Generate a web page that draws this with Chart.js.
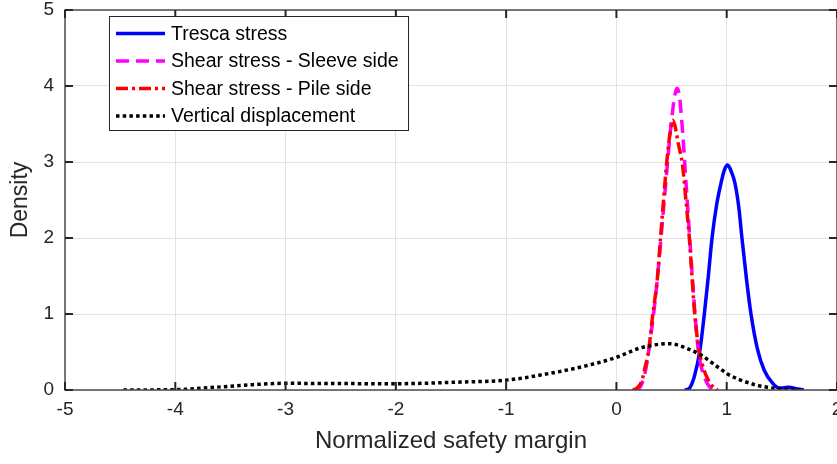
<!DOCTYPE html>
<html lang="en">
  <head>
    <meta charset="UTF-8" />
    <title>Normalized safety margin density</title>
    <script src="https://cdn.jsdelivr.net/npm/chart.js"></script>
    <style>
      body { margin: 0; background: #fff; }
      #wrap { width: 837px; height: 464px; }
    </style>
  </head>

  <body>
    <div id="wrap">
      <canvas id="densityChart" width="837" height="464"></canvas>
    </div>

    <script>
      // density curves as (x, density) pairs
      const trescaX = [0.62, 0.66, 0.707, 0.758, 0.797, 0.83, 0.867, 0.91, 0.948, 0.98, 1.008, 1.04, 1.075, 1.11, 1.138, 1.18, 1.22, 1.28, 1.34, 1.416, 1.476, 1.52, 1.567, 1.62, 1.70];
      const trescaY = [0, 0.02, 0.18, 0.53, 1.0, 1.45, 2.0, 2.45, 2.72, 2.9, 2.96, 2.88, 2.72, 2.4, 2.0, 1.45, 1.0, 0.53, 0.26, 0.09, 0.025, 0.03, 0.035, 0.02, 0];

      const sleeveX = [0.17, 0.22, 0.27, 0.31, 0.345, 0.38, 0.41, 0.44, 0.47, 0.50, 0.53, 0.55, 0.57, 0.60, 0.63, 0.66, 0.69, 0.715, 0.74, 0.77, 0.80, 0.84, 0.88];
      const sleeveY = [0, 0.05, 0.3, 0.7, 1.1, 1.6, 2.1, 2.6, 3.1, 3.55, 3.88, 3.97, 3.88, 3.4, 2.75, 2.1, 1.45, 0.95, 0.55, 0.3, 0.16, 0.05, 0];

      const pileX = [0.15, 0.19, 0.23, 0.26, 0.29, 0.33, 0.37, 0.40, 0.43, 0.46, 0.49, 0.51, 0.53, 0.56, 0.60, 0.63, 0.661, 0.685, 0.707, 0.73, 0.752, 0.79, 0.826, 0.87, 0.915];
      const pileY = [0, 0.03, 0.12, 0.3, 0.5, 1.0, 1.45, 2.0, 2.55, 3.05, 3.42, 3.55, 3.48, 3.25, 2.95, 2.5, 2.0, 1.5, 1.05, 0.72, 0.5, 0.28, 0.15, 0.05, 0];

      const displX = [-4.47, -4.0, -3.7, -3.3, -3.0, -2.6, -2.0, -1.4, -1.0, -0.6, -0.3, 0.0, 0.21, 0.48, 0.66, 0.767, 0.93, 1.008, 1.11, 1.265, 1.447, 1.67];
      const displY = [0, 0.005, 0.03, 0.07, 0.088, 0.085, 0.083, 0.105, 0.13, 0.22, 0.31, 0.43, 0.55, 0.61, 0.535, 0.46, 0.29, 0.21, 0.14, 0.066, 0.02, 0];

      const xMin = -5, xMax = 2;
      const yMin = 0, yMax = 5;

      const toPoints = (xs, ys) => xs.map((x, i) => ({ x: x, y: ys[i] }));

      const FONT = "'Liberation Sans', Arial, Helvetica, sans-serif";
      Chart.defaults.font.family = FONT;

      // box, inward ticks on all four sides
      const axesBox = {
        id: "axesBox",
        afterDatasetsDraw(chart) {
          const { ctx, chartArea: a, scales } = chart;
          ctx.save();
          ctx.strokeStyle = "#4d4d4d";
          ctx.lineWidth = 1.5;
          ctx.strokeRect(a.left, a.top, a.right - a.left, a.bottom - a.top);

          ctx.strokeStyle = "#262626";
          ctx.lineWidth = 2;
          ctx.beginPath();
          scales.x.ticks.forEach((t) => {
            const px = scales.x.getPixelForValue(t.value);
            ctx.moveTo(px, a.bottom);
            ctx.lineTo(px, a.bottom - 8);
            ctx.moveTo(px, a.top);
            ctx.lineTo(px, a.top + 8);
          });
          scales.y.ticks.forEach((t) => {
            const py = scales.y.getPixelForValue(t.value);
            ctx.moveTo(a.left, py);
            ctx.lineTo(a.left + 8, py);
            ctx.moveTo(a.right, py);
            ctx.lineTo(a.right - 8, py);
          });
          ctx.stroke();
          ctx.restore();
        },
      };

      // legend box in the upper left of the axes
      const boxLegend = {
        id: "boxLegend",
        afterDraw(chart) {
          const { ctx } = chart;
          const x0 = 109.5, y0 = 16.5, w = 299, h = 114;
          const rowY = [33.5, 61, 88.5, 116];
          ctx.save();
          ctx.fillStyle = "#fff";
          ctx.fillRect(x0, y0, w, h);
          ctx.strokeStyle = "#262626";
          ctx.lineWidth = 1;
          ctx.strokeRect(x0, y0, w, h);

          ctx.font = "19.5px " + FONT;
          ctx.textBaseline = "middle";
          ctx.textAlign = "left";
          chart.data.datasets.forEach((ds, i) => {
            const y = rowY[i];
            ctx.strokeStyle = ds.borderColor;
            ctx.lineWidth = ds.borderWidth;
            ctx.setLineDash(ds.borderDash || []);
            ctx.beginPath();
            ctx.moveTo(116, y);
            ctx.lineTo(165, y);
            ctx.stroke();
            ctx.setLineDash([]);
            ctx.fillStyle = "#000";
            ctx.fillText(ds.label, 171, y + 1);
          });
          ctx.restore();
        },
      };

      const line = (label, xs, ys, color, dash, order) => ({
        label: label,
        data: toPoints(xs, ys),
        borderColor: color,
        borderWidth: 3.5,
        borderDash: dash,
        pointRadius: 0,
        fill: false,
        cubicInterpolationMode: "monotone",
        order: order,
      });

      new Chart(document.getElementById("densityChart"), {
        type: "line",
        data: {
          datasets: [
            line("Tresca stress", trescaX, trescaY, "#0000ff", [], 4),
            line("Shear stress - Sleeve side", sleeveX, sleeveY, "#ff00ff", [13, 7], 3),
            line("Shear stress - Pile side", pileX, pileY, "#ff0000", [12, 4, 3, 4], 2),
            line("Vertical displacement", displX, displY, "#000000", [3.5, 3.2], 1),
          ],
        },
        options: {
          responsive: false,
          animation: false,
          devicePixelRatio: 1,
          layout: { padding: { top: 10, left: 0, right: 0, bottom: 0 } },
          plugins: {
            legend: { display: false },
            tooltip: { enabled: false },
          },
          scales: {
            x: {
              type: "linear",
              min: xMin,
              max: xMax,
              ticks: {
                stepSize: 1,
                color: "#262626",
                font: { size: 19 },
                padding: 8,
                maxRotation: 0,
                autoSkip: false,
              },
              grid: { color: "#e3e3e3", drawTicks: false },
              border: { display: false },
              title: {
                display: true,
                text: "Normalized safety margin",
                color: "#262626",
                font: { size: 24 },
                padding: { top: 0, bottom: 8 },
              },
              afterFit(scale) {
                scale.height = 74;
                scale.paddingLeft = 0;
                scale.paddingRight = 0;
              },
            },
            y: {
              type: "linear",
              min: yMin,
              max: yMax,
              ticks: {
                stepSize: 1,
                color: "#262626",
                font: { size: 19 },
                padding: 11,
              },
              grid: { color: "#e3e3e3", drawTicks: false },
              border: { display: false },
              title: {
                display: true,
                text: "Density",
                color: "#262626",
                font: { size: 23 },
                padding: { top: 7, bottom: 0 },
              },
              afterFit(scale) {
                scale.width = 65;
                scale.paddingTop = 0;
                scale.paddingBottom = 0;
              },
            },
          },
        },
        plugins: [axesBox, boxLegend],
      });
    </script>
  </body>
</html>
